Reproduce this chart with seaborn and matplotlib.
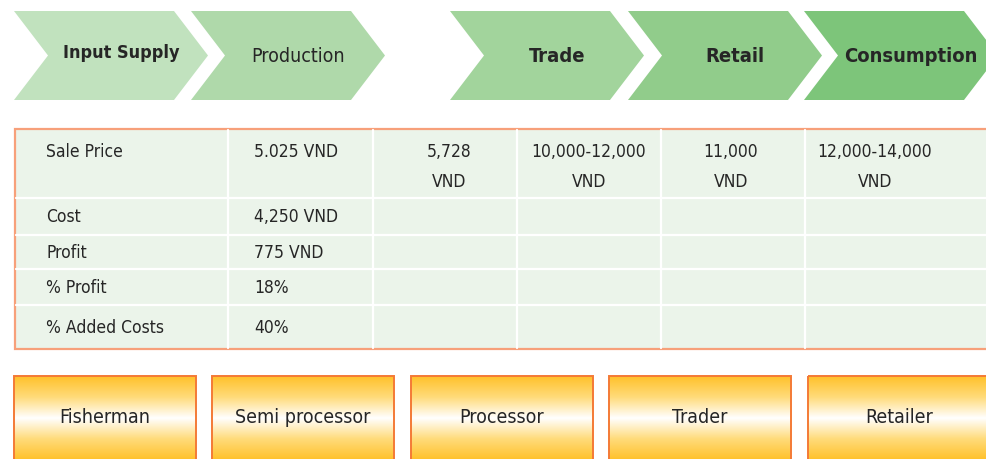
"""
Value chain diagram: stages, price table and actors.
"""
import matplotlib
matplotlib.use("Agg")
import matplotlib.pyplot as plt
import numpy as np
import seaborn as sns
from matplotlib import font_manager
from matplotlib.colors import LinearSegmentedColormap
from matplotlib.patches import Polygon, Rectangle

# Data
stages = ["Input Supply", "Production", "Trade", "Retail", "Consumption"]
stage_weights = ["bold", "normal", "bold", "bold", "bold"]
row_labels = ["Sale Price", "Cost", "Profit", "% Profit", "% Added Costs"]
production_values = ["5.025 VND", "4,250 VND", "775 VND", "18%", "40%"]
later_sale_prices = ["5,728\nVND", "10,000-12,000\nVND", "11,000\nVND", "12,000-14,000\nVND"]
actors = ["Fisherman", "Semi processor", "Processor", "Trader", "Retailer"]

stage_colors = ["#c1e2be", "#afd9aa", "#a2d49c", "#91cc8b", "#7dc57a"]
stage_sizes = [13, 14, 14.5, 14.5, 14.5]
TEXT = "#262626"

sns.set_theme(style="white")
names = {f.name for f in font_manager.fontManager.ttflist}
if "Liberation Sans Narrow" in names:
    FONT, STRETCH = "Liberation Sans Narrow", "normal"
else:
    FONT, STRETCH = "DejaVu Sans", "condensed"
plt.rcParams["font.family"] = [FONT, "DejaVu Sans"]

fig = plt.figure(figsize=(9.87, 4.6), dpi=100)
ax = fig.add_axes([0, 0, 1, 1])
ax.set_xlim(0, 987)
ax.set_ylim(460, 0)
ax.axis("off")

# Chevrons (pixel layout)
chev_left = [14, 191, 450, 628, 804]
chev_w, notch, top, bot = 160, 34, 12, 101
mid = (top + bot) / 2
for i, (left, name) in enumerate(zip(chev_left, stages)):
    right = left + chev_w
    pts = [(left, top), (right, top), (right + notch, mid), (right, bot),
           (left, bot), (left + notch, mid)]
    ax.add_patch(Polygon(pts, closed=True, fc=stage_colors[i], ec="none"))
    ty = mid - 4 if i == 0 else mid
    ax.text((left + notch + right + notch) / 2 - 7, ty, name, ha="center", va="center",
            fontsize=stage_sizes[i], fontweight=stage_weights[i],
            fontstretch=STRETCH, color=TEXT)

# Table
col_edges = [15, 228, 373, 517, 661, 805, 990]
row_edges = [130, 199, 236, 270, 306, 350]
ax.add_patch(Rectangle((col_edges[0], row_edges[0]), col_edges[-1] - col_edges[0],
                       row_edges[-1] - row_edges[0], fc="#ebf4ea", ec="#f7a07a", lw=1.6, zorder=1))
for x in col_edges[1:-1]:
    ax.plot([x, x], [row_edges[0] + 1, row_edges[-1] - 1], color="white", lw=1.6, zorder=2)
for y in row_edges[1:-1]:
    ax.plot([col_edges[0] + 1, 987], [y, y], color="white", lw=1.6, zorder=2)

row_y = [152] + [(a + b) / 2 for a, b in zip(row_edges[1:-1], row_edges[2:])]
for y, label, val in zip(row_y, row_labels, production_values):
    ax.text(46, y, label, ha="left", va="center", fontsize=12.5,
            fontstretch=STRETCH, color=TEXT, zorder=3)
    ax.text(254, y, val, ha="left", va="center", fontsize=12.5,
            fontstretch=STRETCH, color=TEXT, zorder=3)
for cx, val in zip([449, 589, 731, 875], later_sale_prices):
    ax.text(cx, 143, val, ha="center", va="top", fontsize=12.5, linespacing=1.85,
            fontstretch=STRETCH, color=TEXT, zorder=3)

# Actor boxes with yellow-white-yellow gradient
cmap = LinearSegmentedColormap.from_list(
    "yel", ["#ffc12a", "#ffdb7a", "#ffffff", "#ffdb7a", "#ffc12a"])
grad = np.linspace(0, 1, 256).reshape(-1, 1)
box_left = [14, 212, 411, 609, 808]
box_w, box_top, box_h = 182, 377, 84
for left, name in zip(box_left, actors):
    rect = Rectangle((left, box_top), box_w, box_h, fc="none", ec="#f47a36", lw=1.4, zorder=4)
    ax.add_patch(rect)
    im = ax.imshow(grad, cmap=cmap, aspect="auto", zorder=3,
                   extent=(left, left + box_w, box_top + box_h, box_top))
    im.set_clip_path(rect)
    ax.text(left + box_w / 2, 418, name, ha="center", va="center", fontsize=14,
            fontstretch=STRETCH, color=TEXT, zorder=5)

ax.set_xlim(0, 987)
ax.set_ylim(460, 0)
fig.savefig("out.png", dpi=100)
